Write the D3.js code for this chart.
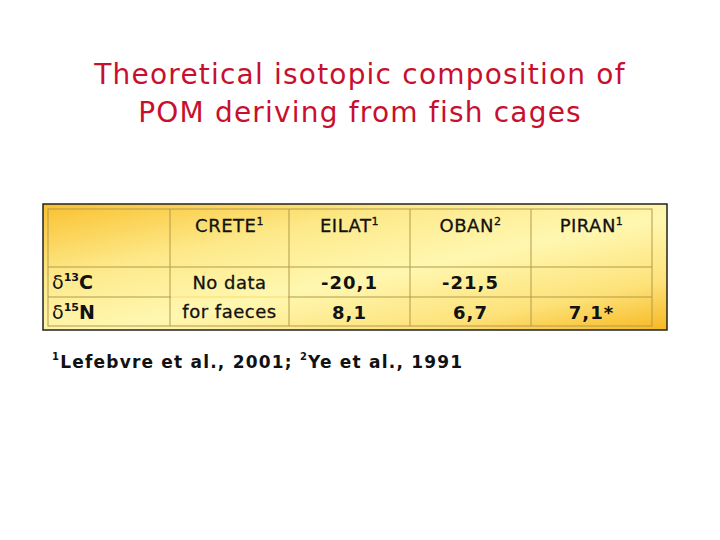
<!DOCTYPE html>
<html><head><meta charset="utf-8">
<script src="https://cdn.jsdelivr.net/npm/d3@7"></script>
<style>body{margin:0;background:#fff}</style>
</head><body><div id="chart"></div>
<script>
var titleLines = ["Theoretical isotopic composition of", "POM deriving from fish cages"];
var sites = ["CRETE", "EILAT", "OBAN", "PIRAN"];
var siteRefs = ["1", "1", "2", "1"];
var rowIsotopes = [["13", "C"], ["15", "N"]];
var d13C = ["", "-20,1", "-21,5", ""];
var d15N = ["", "8,1", "6,7", "7,1*"];
var noData = ["No data", "for faeces"];

var svg = d3.select("#chart").append("svg").attr("width", 720).attr("height", 540);
var font = "'DejaVu Sans', sans-serif";

svg.selectAll("text.title").data(titleLines).enter().append("text")
  .attr("x", 360).attr("y", function(d, i) { return 84 + i * 38; })
  .attr("text-anchor", "middle").attr("font-family", font).attr("font-size", 28)
  .attr("letter-spacing", 1.2).attr("fill", "#c8102e").text(function(d) { return d; });

var defs = svg.append("defs");
var g = defs.append("linearGradient").attr("id", "bg")
  .attr("x1", "0").attr("y1", "0").attr("x2", "1").attr("y2", "1");
g.append("stop").attr("offset", "0").attr("stop-color", "#f9c12e");
g.append("stop").attr("offset", "0.3").attr("stop-color", "#fde98a");
g.append("stop").attr("offset", "0.55").attr("stop-color", "#fff7b0");
g.append("stop").attr("offset", "0.8").attr("stop-color", "#fde27a");
g.append("stop").attr("offset", "1").attr("stop-color", "#f7b820");

svg.append("rect").attr("x", 43).attr("y", 204).attr("width", 624).attr("height", 126)
  .attr("fill", "url(#bg)").attr("stroke", "#222").attr("stroke-width", 1.5);

var colX = [48, 170, 289, 410, 531, 652];
var rowY = [209, 267, 297, 326];

var grid = svg.append("g").attr("stroke", "#b39a4a").attr("stroke-width", 1).attr("fill", "none");
grid.append("rect").attr("x", 48).attr("y", 209).attr("width", 604).attr("height", 117);
colX.slice(1, 5).forEach(function(cx) {
  grid.append("line").attr("x1", cx).attr("x2", cx).attr("y1", 209).attr("y2", 326);
});
[267, 297].forEach(function(ry) {
  grid.append("line").attr("x1", 48).attr("x2", 652).attr("y1", ry).attr("y2", ry);
});
svg.append("line").attr("x1", 171).attr("x2", 288).attr("y1", 297).attr("y2", 297)
  .attr("stroke", "#fde98a").attr("stroke-width", 2);

function mid(i) { return (colX[i] + colX[i + 1]) / 2; }

var hdr = svg.selectAll("text.hdr").data(sites).enter().append("text")
  .attr("x", function(d, i) { return mid(i + 1); }).attr("y", 232)
  .attr("text-anchor", "middle").attr("font-family", font).attr("font-size", 18)
  .attr("letter-spacing", 0.5).attr("fill", "#111").attr("stroke", "#111").attr("stroke-width", 0.3);
hdr.append("tspan").text(function(d) { return d; });
hdr.append("tspan").attr("font-size", 11).attr("dy", -7).text(function(d, i) { return siteRefs[i]; });

var lab = svg.selectAll("text.lab").data(rowIsotopes).enter().append("text")
  .attr("x", 52).attr("y", function(d, i) { return (rowY[i + 1] + rowY[i + 2]) / 2 + 7; })
  .attr("font-family", font).attr("font-size", 19).attr("fill", "#111");
lab.append("tspan").text("δ");
lab.append("tspan").attr("font-size", 11).attr("dy", -8).attr("font-weight", "bold").text(function(d) { return d[0]; });
lab.append("tspan").attr("dy", 8).attr("font-weight", "bold").text(function(d) { return d[1]; });

svg.selectAll("text.nd").data(noData).enter().append("text")
  .attr("x", mid(1)).attr("y", function(d, i) { return 289 + i * 29; })
  .attr("text-anchor", "middle").attr("font-family", font).attr("font-size", 18)
  .attr("letter-spacing", 0.5).attr("fill", "#111").attr("stroke", "#111").attr("stroke-width", 0.3)
  .text(function(d) { return d; });

[d13C, d15N].forEach(function(row, r) {
  svg.selectAll("text.v" + r).data(row).enter().append("text")
    .attr("x", function(d, i) { return mid(i + 1); })
    .attr("y", (rowY[r + 1] + rowY[r + 2]) / 2 + 7)
    .attr("text-anchor", "middle").attr("font-family", font).attr("font-size", 18)
    .attr("letter-spacing", 1).attr("font-weight", "bold").attr("fill", "#111").text(function(d) { return d; });
});

var foot = svg.append("text").attr("x", 52).attr("y", 368)
  .attr("font-family", font).attr("font-size", 17).attr("font-weight", "bold")
  .attr("letter-spacing", 1.2).attr("fill", "#111");
foot.append("tspan").attr("font-size", 10).attr("dy", -8).text("1");
foot.append("tspan").attr("dy", 8).text("Lefebvre et al., 2001; ");
foot.append("tspan").attr("font-size", 10).attr("dy", -8).text("2");
foot.append("tspan").attr("dy", 8).text("Ye et al., 1991");
</script></body></html>
